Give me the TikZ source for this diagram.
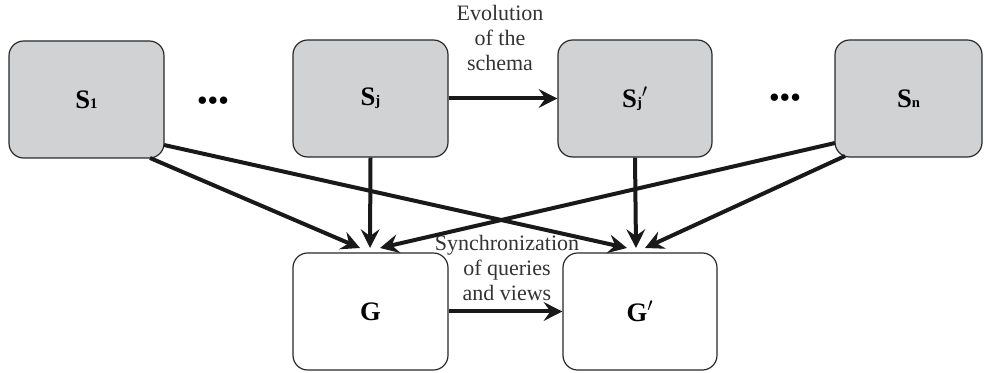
\documentclass[tikz,border=0pt]{standalone}
\usepackage{fontspec}
\setmainfont{Liberation Serif}
\usetikzlibrary{arrows.meta}
\definecolor{boxgray}{RGB}{209,210,212}
\definecolor{edgegray}{RGB}{40,40,40}
\begin{document}
\begin{tikzpicture}[x=0.75pt,y=-0.75pt,
  sbox/.style={draw=edgegray,line width=0.9pt,rounded corners=11pt,fill=boxgray,
    minimum height=87.75pt,inner sep=0pt,font=\fontsize{20}{22}\selectfont\bfseries},
  gbox/.style={sbox,fill=white},
  conn/.style={line width=3pt,draw=black!90,
    -{Stealth[length=14pt,width=14pt,inset=5pt]}},
  lbl/.style={align=center,font=\fontsize{16.5}{18.8}\selectfont,text=black!80},
  dots/.style={font=\fontsize{15}{18}\selectfont}]
\useasboundingbox (0,0) rectangle (984,373);
\node[sbox,minimum width=116.25pt] (s1) at (86.5,99.5) {S\fontsize{11}{11}\selectfont 1};
\node[sbox,minimum width=116.25pt] (sj) at (370.5,98.5) {S\fontsize{11}{11}\selectfont j};
\node[sbox,minimum width=115.5pt] (sjp) at (635,98.5) {S\fontsize{11}{11}\selectfont j\fontsize{20}{22}\selectfont$'$};
\node[sbox,minimum width=110.25pt] (sn) at (908.5,98.5) {S\fontsize{11}{11}\selectfont n};
\node[gbox,minimum width=116.25pt] (g) at (370.5,311.5) {G};
\node[gbox,minimum width=115.5pt] (gp) at (640,311.5) {G$'$};
\node[dots] (d1) at (213,101) {$\bullet\!\bullet\!\bullet$};
\node[dots] (d2) at (785,98) {$\bullet\!\bullet\!\bullet$};
\node[lbl] (evo) at (500,38) {Evolution\\of the\\schema};
\node[lbl] (syn) at (507,268) {Synchronization\\of queries\\and views};
\coordinate (ga) at (360,248);
\coordinate (gb) at (370,248);
\coordinate (gc) at (380,248);
\coordinate (gpa) at (627,248);
\coordinate (gpb) at (636,248);
\coordinate (gpc) at (645,248);
\coordinate (s1a) at (150,158);
\coordinate (s1b) at (164,145);
\coordinate (sna) at (835,143);
\coordinate (snb) at (845,156);
\draw[conn] (sj.east) -- (sjp.west);
\draw[conn] (g.east) -- (gp.west);
\draw[conn] (s1a) -- (ga);
\draw[conn] (sj.south) -- (gb);
\draw[conn] (sna) -- (gc);
\draw[conn] (s1b) -- (gpa);
\draw[conn] (sjp.south) -- (gpb);
\draw[conn] (snb) -- (gpc);
\end{tikzpicture}
\end{document}
